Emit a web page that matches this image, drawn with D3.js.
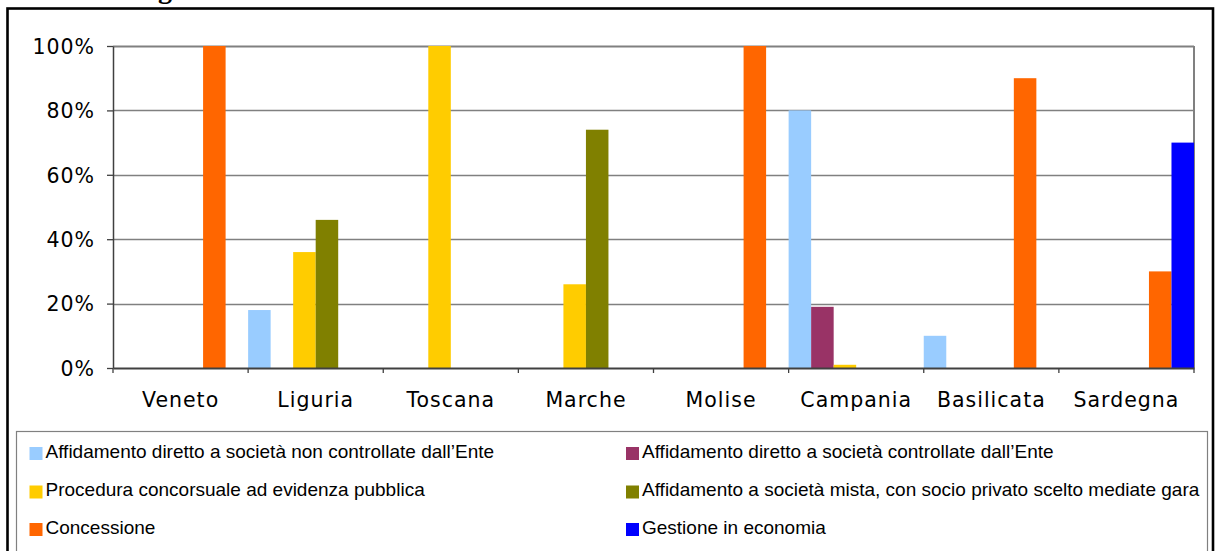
<!DOCTYPE html>
<html>
<head>
<meta charset="utf-8">
<script src="https://cdn.jsdelivr.net/npm/d3@7"></script>
<style>
  html, body { margin: 0; padding: 0; background: #fff; }
  svg { display: block; }
</style>
</head>
<body>
<svg id="chart" width="1216" height="551"></svg>
<script>
// ---- data ----
const categories = ["Veneto", "Liguria", "Toscana", "Marche", "Molise", "Campania", "Basilicata", "Sardegna"];
const seriesNames = [
  "Affidamento diretto a società non controllate dall’Ente",
  "Affidamento diretto a società controllate dall’Ente",
  "Procedura concorsuale ad evidenza pubblica",
  "Affidamento a società mista, con socio privato scelto mediate gara",
  "Concessione",
  "Gestione in economia"
];
const nonControllate = [0, 18, 0, 0, 0, 80, 10, 0];
const controllate    = [0, 0, 0, 0, 0, 19, 0, 0];
const procedura      = [0, 36, 100, 26, 0, 1, 0, 0];
const mista          = [0, 46, 0, 74, 0, 0, 0, 0];
const concessione    = [100, 0, 0, 0, 100, 0, 90, 30];
const economia       = [0, 0, 0, 0, 0, 0, 0, 70];
const seriesValues = [nonControllate, controllate, procedura, mista, concessione, economia];
const seriesColors = ["#99CCFF", "#993366", "#FFCC00", "#808000", "#FF6600", "#0000FF"];
const yTicks = [0, 20, 40, 60, 80, 100];

// ---- layout ----
const svg = d3.select("#chart");
const plot = { left: 113, right: 1194, top: 46, bottom: 368 };

svg.append("rect").attr("width", 1216).attr("height", 551).attr("fill", "#fff");

// title fragment cut off above the picture (as in the reference)
svg.append("text")
  .attr("x", 158).attr("y", -2)
  .attr("font-family", "Liberation Serif").attr("font-weight", "bold")
  .attr("font-size", 28).attr("fill", "#000")
  .text("g");

// outer frame
svg.append("rect")
  .attr("x", 7.5).attr("y", 8.5).attr("width", 1205.5).attr("height", 700)
  .attr("fill", "none").attr("stroke", "#000").attr("stroke-width", 2.6);

const x = d3.scaleBand().domain(categories).range([plot.left, plot.right]).paddingInner(0).paddingOuter(0);
const x1 = d3.scaleBand().domain(d3.range(seriesNames.length)).range([0, x.bandwidth()]).padding(0);
const y = d3.scaleLinear().domain([0, 100]).range([plot.bottom, plot.top]);

// gridlines
svg.append("g").selectAll("line").data(yTicks.filter(d => d > 0)).join("line")
  .attr("x1", plot.left).attr("x2", plot.right)
  .attr("y1", d => Math.round(y(d)) + 0.5).attr("y2", d => Math.round(y(d)) + 0.5)
  .attr("stroke", "#808080").attr("stroke-width", d => d === 100 ? 2 : 1.3);

// plot area right border
svg.append("line")
  .attr("x1", plot.right).attr("x2", plot.right)
  .attr("y1", plot.top).attr("y2", plot.bottom)
  .attr("stroke", "#808080").attr("stroke-width", 2);

// bars
const rows = [];
seriesValues.forEach((vals, si) => {
  vals.forEach((v, ci) => { if (v > 0) rows.push({ si, cat: categories[ci], v }); });
});
svg.append("g").selectAll("rect").data(rows).join("rect")
  .attr("x", d => x(d.cat) + x1(d.si))
  .attr("width", x1.bandwidth())
  .attr("y", d => y(d.v))
  .attr("height", d => y(0) - y(d.v))
  .attr("fill", d => seriesColors[d.si]);

// y axis
const yAxis = svg.append("g").attr("transform", `translate(${plot.left},0)`)
  .call(d3.axisLeft(y).tickValues(yTicks).tickFormat(d => d + "%").tickSizeInner(6).tickSizeOuter(0).tickPadding(12));
yAxis.select(".domain").attr("stroke", "#404040").attr("stroke-width", 1.5);
yAxis.selectAll(".tick line").attr("stroke", "#404040").attr("stroke-width", 1.3);
yAxis.selectAll("text")
  .attr("font-family", "DejaVu Sans").attr("font-size", 20.5).attr("letter-spacing", 1)
  .attr("fill", "#000").attr("dy", "0.36em");

// x axis
const xAxis = svg.append("g").attr("transform", `translate(0,${plot.bottom})`)
  .call(d3.axisBottom(x).tickSize(0).tickPadding(25));
xAxis.select(".domain").attr("stroke", "#404040").attr("stroke-width", 1.8);
xAxis.selectAll("text")
  .attr("font-family", "DejaVu Sans").attr("font-size", 20.5).attr("letter-spacing", 1)
  .attr("fill", "#000").attr("dy", "0.7em");
// category boundary ticks
const boundaries = categories.map(c => x(c)).concat([plot.right]);
xAxis.append("g").selectAll("line").data(boundaries).join("line")
  .attr("x1", d => d).attr("x2", d => d)
  .attr("y1", 0).attr("y2", 5)
  .attr("stroke", "#404040").attr("stroke-width", 1.3);

// legend
const legend = svg.append("g");
legend.append("rect")
  .attr("x", 16.5).attr("y", 431.5).attr("width", 1191).attr("height", 200)
  .attr("fill", "#fff").attr("stroke", "#808080").attr("stroke-width", 1.2);
const colX = [29.5, 626];
const rowY = [447, 485.5, 523];
const items = legend.selectAll("g.item").data(seriesNames.map((n, i) => ({ n, i }))).join("g")
  .attr("class", "item")
  .attr("transform", d => `translate(${colX[d.i % 2]},${rowY[Math.floor(d.i / 2)]})`);
items.append("rect").attr("width", 13).attr("height", 13).attr("fill", d => seriesColors[d.i]);
items.append("text")
  .attr("x", 16).attr("y", 10.5)
  .attr("font-family", "Liberation Sans").attr("font-size", 19).attr("fill", "#000")
  .text(d => d.n);
</script>
</body>
</html>
